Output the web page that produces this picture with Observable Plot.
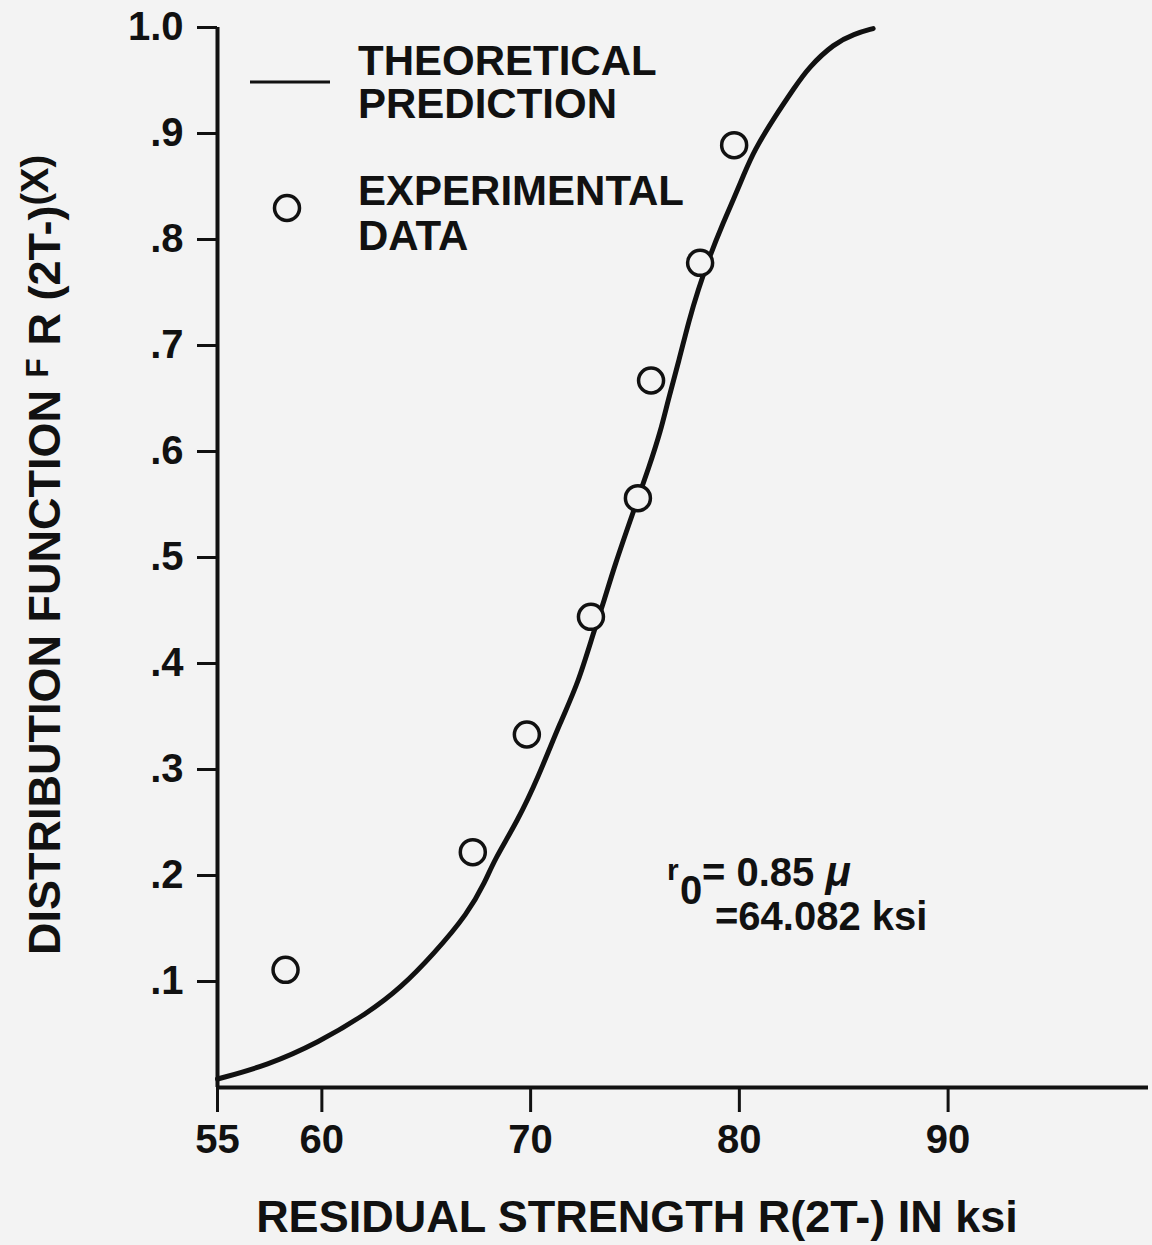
<!DOCTYPE html>
<html><head><meta charset="utf-8">
<script src="https://cdn.jsdelivr.net/npm/d3@7"></script>
<script src="https://cdn.jsdelivr.net/npm/@observablehq/plot@0.6"></script>
<style>
html,body{margin:0;padding:0;background:#f3f3f3;}
svg{display:block}
</style></head><body><div id="chart"></div>
<script>
// Theoretical prediction curve
const curveX = [55.0, 57.40, 59.80, 62.19, 63.78, 65.36, 66.99, 67.85, 68.24, 69.39, 70.35, 71.45, 72.27, 73.04, 73.52, 74.00, 74.95, 75.67, 76.24, 76.58, 77.11, 77.59, 78.02, 78.55, 79.27, 79.70, 80.23, 80.71, 81.67, 82.63, 83.30, 84.54, 85.50, 86.41];
const curveY = [0.008, 0.021, 0.042, 0.070, 0.094, 0.126, 0.164, 0.195, 0.214, 0.252, 0.292, 0.346, 0.381, 0.431, 0.459, 0.491, 0.545, 0.585, 0.620, 0.648, 0.686, 0.724, 0.752, 0.783, 0.818, 0.837, 0.862, 0.884, 0.915, 0.943, 0.962, 0.985, 0.994, 0.999];
// Experimental data
const dataX = [58.26, 67.23, 69.82, 72.89, 75.14, 75.77, 78.12, 79.75];
const dataY = [0.111, 0.222, 0.333, 0.444, 0.556, 0.667, 0.778, 0.889];
// Axes
const xDomain = [55, 99.6];
const yDomain = [0, 1];
const xTicks = [55, 60, 70, 80, 90];
const yTicks = [0.1, 0.2, 0.3, 0.4, 0.5, 0.6, 0.7, 0.8, 0.9, 1.0];
const yTickLabels = [".1", ".2", ".3", ".4", ".5", ".6", ".7", ".8", ".9", "1.0"];
const xLabel = "RESIDUAL STRENGTH R(2T-) IN ksi";
const legendItems = [["THEORETICAL", "PREDICTION"], ["EXPERIMENTAL", "DATA"]];

const BG = "#f3f3f3", INK = "#111";
const FONT = "'Liberation Sans', Arial, sans-serif";

const curve = curveX.map((x, i) => ({x, y: curveY[i]}));
const points = dataX.map((x, i) => ({x, y: dataY[i]}));

const plot = Plot.plot({
  width: 1152, height: 1245,
  marginLeft: 217, marginRight: 4, marginTop: 27, marginBottom: 158,
  style: {background: BG, color: INK, fontFamily: FONT, fontWeight: "bold"},
  x: {domain: xDomain},
  y: {domain: yDomain},
  marks: [
    Plot.axisX(xTicks, {tickSize: 25, tickPadding: 12, strokeWidth: 3, fontSize: 40, label: null, stroke: INK, fill: INK}),
    Plot.axisY(yTicks, {tickSize: 20, tickPadding: 14, strokeWidth: 3, fontSize: 40, label: null, stroke: INK, fill: INK,
      tickFormat: d => yTickLabels[yTicks.findIndex(t => Math.abs(t - d) < 1e-9)]}),
    Plot.ruleX([xDomain[0]], {stroke: INK, strokeWidth: 4}),
    Plot.ruleY([yDomain[0]], {stroke: INK, strokeWidth: 4}),
    Plot.line(curve, {x: "x", y: "y", curve: "basis", stroke: INK, strokeWidth: 5}),
    Plot.dot(points, {x: "x", y: "y", r: 12.5, stroke: INK, fill: BG, strokeWidth: 3.5})
  ]
});
document.getElementById("chart").appendChild(plot);

const svg = d3.select(plot);
const g = svg.append("g").attr("font-family", FONT).attr("font-weight", "bold").attr("fill", INK).attr("text-anchor", "start");

// Legend
g.append("line").attr("x1", 250).attr("x2", 330).attr("y1", 82).attr("y2", 82).attr("stroke", INK).attr("stroke-width", 3);
g.append("text").attr("x", 358).attr("y", 75).attr("font-size", 42).text(legendItems[0][0]);
g.append("text").attr("x", 358).attr("y", 118).attr("font-size", 42).text(legendItems[0][1]);
g.append("circle").attr("cx", 287).attr("cy", 208).attr("r", 12.5).attr("fill", BG).attr("stroke", INK).attr("stroke-width", 3.5);
g.append("text").attr("x", 358).attr("y", 205).attr("font-size", 42).text(legendItems[1][0]);
g.append("text").attr("x", 358).attr("y", 250).attr("font-size", 42).text(legendItems[1][1]);

// Annotation
g.append("text").attr("x", 667).attr("y", 880).attr("font-size", 30).text("r");
g.append("text").attr("x", 680).attr("y", 904).attr("font-size", 40).text("0");
const a1 = g.append("text").attr("x", 702).attr("y", 886).attr("font-size", 40);
a1.append("tspan").text("= 0.85 ");
a1.append("tspan").attr("font-style", "italic").attr("font-size", 42).text("μ");
g.append("text").attr("x", 715).attr("y", 930).attr("font-size", 40).text("=64.082 ksi");

// X axis label
g.append("text").attr("x", 637).attr("y", 1232).attr("text-anchor", "middle").attr("font-size", 45).text(xLabel);

// Y axis label
const yl = g.append("text").attr("transform", "translate(60,555) rotate(-90)").attr("text-anchor", "middle").attr("font-size", 45);
yl.append("tspan").text("DISTRIBUTION FUNCTION ");
yl.append("tspan").attr("font-size", 32).attr("dy", -12).text("F");
yl.append("tspan").attr("dy", 12).text(" R (2T-)");
yl.append("tspan").attr("font-size", 38).attr("dy", -12).text("(X)");
</script>
</body></html>
